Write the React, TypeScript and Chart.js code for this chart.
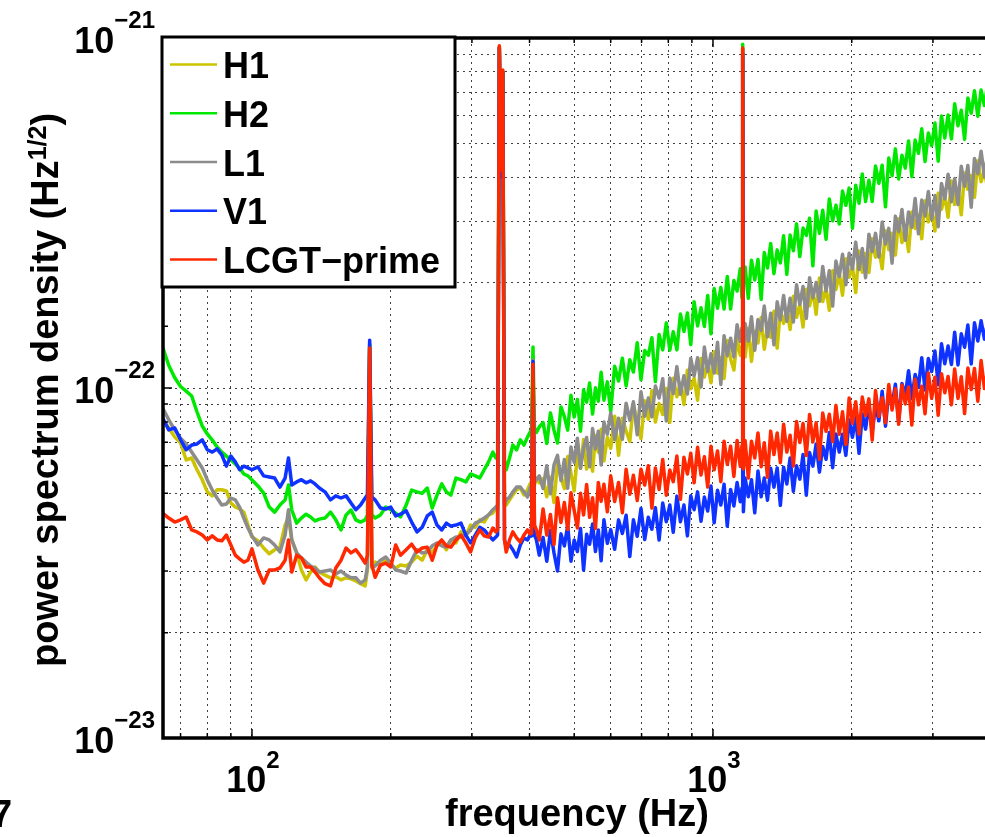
import React, { useEffect, useRef } from "react";
import { Chart, registerables } from "chart.js";

Chart.register(...registerables);

// Frequency bins (Hz)
const freqHz = [
  64, 66, 68, 70, 72, 74, 76, 78, 80, 82, 84, 86, 88, 90, 92, 94, 96, 98,
  100, 103, 106, 109, 112, 115, 118,
  120, 122, 125, 128, 131, 134, 137, 140,
  144, 148, 152, 156, 160, 164, 168, 172, 176,
  178, 180, 182, 185, 190, 195, 200, 205, 210,
  216, 222, 228, 234, 240, 246, 252, 258,
  264, 270,
  277, 284, 291, 298, 305, 312, 319, 326, 333,
  338, 341, 344, 347, 350, 353, 356,
  362, 368, 375, 382, 389, 396,
  401, 404, 407, 410, 414, 420,
  428, 436, 444, 452, 460, 468, 476, 484, 492, 500, 508, 516, 524, 532, 540, 548, 556, 564, 572, 580,
  590, 600,
  612, 624, 636, 648, 660, 672,
  685, 698, 711, 724, 737, 750,
  764, 778, 792, 806, 820,
  835, 850, 865, 880, 895,
  910, 926, 942, 958, 974, 990,
  1006, 1023, 1040, 1057, 1074, 1092, 1110, 1128, 1146,
  1156, 1160, 1164, 1174,
  1193, 1212, 1232, 1252, 1272, 1292, 1313, 1334, 1356, 1378,
  1400, 1423, 1446, 1470, 1494, 1518, 1543, 1568, 1594, 1620,
  1647, 1674, 1702, 1730, 1759, 1788, 1818, 1848, 1879, 1910,
  1942, 1974, 2007, 2040, 2074, 2108, 2143, 2179, 2215, 2252,
  2290, 2328, 2367, 2406, 2446, 2487, 2528, 2570, 2613, 2656,
  2700, 2745, 2791, 2837, 2884, 2932, 2981, 3030, 3080, 3131,
  3183, 3236, 3290, 3344, 3400, 3456, 3514, 3572, 3632, 3692,
  3754, 3816, 3880, 3944,
];

// Amplitude spectral density, in units of 1e-23 (Hz^-1/2)
const h1 = [
  8.11, 7.69, 7.24, 6.97, 6.23, 6.31, 5.84, 5.47, 5.05, 4.92, 5.12, 5.12, 5.08, 4.69, 4.57, 4.51, 4.42, 4.06,
  3.75, 3.66, 3.49, 3.36, 3.45, 3.51, 4.06,
  4.25, 3.68, 3.38, 3.02, 2.83, 2.98, 3.08, 2.98,
  2.92, 2.87, 2.89, 2.83, 2.87, 2.85, 2.81, 2.76, 2.72,
  3.02, 13.2, 3.06, 3.18, 3.12, 3.22, 3.12, 3.06, 3.12,
  3.10, 3.18, 3.31, 3.22, 3.45, 3.40, 3.54, 3.61,
  3.45, 3.68,
  3.61, 3.88, 3.78, 4.06, 4.00, 4.20, 4.14, 4.34, 4.39,
  4.54, 4.49, 94, 40, 80, 4.72, 4.63,
  4.79, 4.95, 5.12, 5.18, 4.95, 5.12,
  5.32, 5.18, 11.8, 5.28, 5.53, 5.36,
  5.51, 4.89, 5.56, 4.71, 6.13, 5.55, 5.16, 6.37, 5.72, 5.08, 6.45, 5.90, 7.12, 5.87, 6.51, 5.78, 7.31, 6.55, 7.62, 6.19,
  7.23, 6.73,
  8.31, 6.42, 8.19, 7.53, 7.04, 8.96,
  8.04, 7.17, 9.20, 8.14, 9.83, 7.99,
  9.03, 8.40, 9.97, 7.98, 10.66,
  9.44, 10.33, 8.97, 11.24, 9.95,
  10.66, 9.23, 12.14, 10.75, 11.75, 10.35,
  12.70, 11.02, 12.20, 10.65, 13.67, 12.10, 11.26, 13.80, 12.41,
  13.20, 93, 13.99, 12.26,
  14.82, 11.91, 14.52, 13.44, 15.91, 12.91, 14.79, 13.98, 16.57, 13.00,
  16.73, 15.29, 16.70, 14.69, 18.30, 15.92, 17.32, 14.94, 19.14, 17.17,
  19.05, 16.24, 20.63, 17.66, 19.24, 16.68, 21.63, 19.12, 21.25, 18.42,
  23.40, 20.73, 22.22, 18.74, 24.64, 21.42, 24.23, 21.38, 26.69, 23.65,
  24.98, 21.91, 28.12, 24.85, 27.66, 23.98, 30.47, 26.03, 28.81, 24.54,
  31.84, 28.57, 31.22, 26.70, 34.28, 29.83, 32.02, 28.09, 36.04, 32.38,
  35.44, 30.73, 39.05, 33.45, 37.08, 31.26, 41.11, 36.95, 40.44, 35.06,
  44.56, 38.83, 41.67, 37.00,
];

const h2 = [
  13.1, 11.6, 10.7, 10.1, 9.8, 9.49, 8.54, 7.79, 7.39, 7.10, 6.78, 6.56, 6.39, 6.23, 6.07, 5.91, 5.68, 5.61,
  5.46, 5.25, 5.01, 4.57, 4.42, 4.63, 4.79,
  5.28, 4.48, 4.11, 4.25, 4.36, 4.28, 4.17, 4.22,
  4.25, 4.42, 4.20, 3.93, 4.34, 4.48, 4.20, 4.14, 4.20,
  4.34, 13.3, 4.34, 4.25, 4.34, 4.57, 4.49, 4.39, 4.28,
  4.63, 5.11, 5.05, 5.00, 5.18, 4.54, 4.94, 5.32,
  5.05, 4.94,
  5.53, 5.47, 5.39, 5.68, 5.61, 5.53, 5.84, 6.15, 6.56,
  6.31, 6.43, 94, 40, 80, 6.23, 5.84,
  6.31, 6.87, 6.66, 7.11, 6.87, 7.24,
  7.47, 7.60, 13.1, 7.69, 7.47, 7.74,
  7.96, 6.94, 8.49, 7.58, 6.96, 8.83, 8.28, 7.58, 9.54, 8.27, 9.27, 7.53, 9.88, 9.11, 10.33, 8.43, 10.01, 9.17, 11.09, 9.23,
  10.41, 8.55,
  11.54, 10.47, 12.17, 10.14, 12.05, 11.11,
  13.46, 10.56, 12.80, 12.40, 13.91, 10.43,
  14.22, 12.85, 15.35, 12.83, 14.47,
  12.85, 16.26, 14.51, 16.37, 13.31,
  17.65, 15.05, 16.95, 14.99, 18.38, 14.29,
  19.25, 16.90, 19.36, 16.82, 20.83, 16.81, 20.27, 18.93, 21.92,
  18.09, 96, 19.94, 22.16,
  18.05, 23.19, 20.36, 23.29, 17.92, 24.38, 22.03, 25.87, 21.22, 24.81,
  22.77, 27.23, 21.13, 27.36, 24.68, 29.44, 23.75, 28.63, 27.30, 30.56,
  22.34, 32.02, 27.68, 32.20, 26.61, 34.68, 30.04, 33.26, 29.41, 36.54,
  33.26, 37.25, 28.62, 37.96, 33.73, 40.88, 34.10, 39.23, 34.09, 43.09,
  38.44, 43.32, 32.94, 45.40, 40.41, 48.22, 39.57, 46.26, 42.49, 50.81,
  40.15, 51.08, 46.84, 55.01, 44.39, 53.54, 49.25, 57.18, 44.46, 59.90,
  51.76, 60.22, 51.50, 64.85, 56.17, 62.20, 51.33, 67.40, 60.96, 70.63,
  59.74, 71.02, 64.11, 74.42,
];

const l1 = [
  8.77, 8.11, 7.59, 7.19, 6.92, 6.56, 6.23, 5.91, 5.46, 5.11, 4.85, 4.63, 4.66, 4.85, 4.79, 4.57, 4.25, 3.98,
  3.78, 3.56, 3.73, 3.68, 3.56, 3.40, 3.80,
  4.49, 3.68, 3.38, 3.27, 3.18, 3.10, 3.06, 2.98,
  3.00, 3.02, 2.94, 3.00, 2.92, 2.87, 2.87, 2.77, 2.83,
  3.08, 13.4, 3.08, 3.10, 3.22, 3.29, 3.16, 3.02, 3.00,
  2.96, 3.22, 3.45, 3.38, 3.40, 3.54, 3.61, 3.54,
  3.51, 3.68,
  3.75, 3.75, 3.80, 3.93, 4.11, 4.17, 4.25, 4.34, 4.49,
  4.57, 4.63, 94, 40, 80, 4.63, 4.79,
  4.88, 5.05, 5.21, 5.21, 5.05, 4.88,
  5.18, 5.28, 12.0, 5.39, 5.47, 5.61,
  5.16, 6.00, 4.99, 6.03, 6.42, 5.44, 6.25, 5.17, 6.78, 6.13, 7.19, 5.90, 6.75, 7.22, 5.96, 7.66, 6.71, 7.52, 6.03, 8.00,
  7.38, 8.49,
  7.11, 8.20, 7.14, 9.05, 8.09, 9.13,
  7.35, 9.75, 8.31, 9.36, 8.27, 10.13,
  9.36, 10.63, 8.05, 10.68, 9.64,
  11.51, 9.60, 10.84, 9.61, 12.16,
  10.83, 12.20, 10.06, 13.10, 11.15, 12.53,
  11.04, 13.51, 10.24, 14.11, 12.37, 13.88, 12.27, 15.16, 13.58,
  14.86, 93, 12.38, 15.29,
  13.60, 15.97, 12.82, 15.68, 14.62, 17.14, 14.01, 16.35, 13.29, 17.63,
  15.66, 18.38, 15.51, 18.04, 15.43, 19.72, 17.32, 19.50, 15.81, 20.64,
  18.10, 20.01, 17.69, 22.24, 18.93, 21.62, 17.14, 23.05, 20.82, 24.12,
  19.73, 24.25, 21.88, 26.11, 21.79, 25.05, 20.66, 27.51, 24.53, 27.66,
  23.66, 29.79, 25.81, 28.58, 22.74, 30.98, 28.00, 32.35, 26.42, 31.82,
  28.76, 34.81, 27.58, 34.42, 31.02, 36.45, 30.33, 35.46, 28.90, 38.40,
  34.72, 40.79, 34.03, 39.69, 33.43, 42.98, 37.73, 43.21, 32.85, 45.29,
  40.95, 47.45, 40.13, 46.81,
];

const v1 = [
  8.21, 7.59, 7.69, 7.11, 6.66, 6.87, 6.92, 7.11, 6.66, 6.56, 6.70, 6.44, 5.98, 6.39, 6.15, 5.84, 5.98, 5.91,
  5.84, 5.95, 5.61, 5.57, 5.53, 5.21, 5.53,
  6.31, 5.28, 5.39, 5.47, 5.36, 5.43, 5.32, 5.18,
  5.05, 4.79, 4.92, 4.85, 4.92, 4.69, 4.49, 4.63, 4.85,
  4.95, 13.7, 4.88, 4.79, 4.54, 4.51, 4.57, 4.31, 4.36,
  4.46, 4.14, 3.88, 4.00, 4.31, 4.42, 4.06, 3.93,
  4.11, 4.03,
  4.06, 4.11, 3.80, 3.61, 3.80, 4.00, 3.93, 3.80, 3.68,
  3.75, 3.80, 94, 40, 80, 3.68, 3.51,
  3.56, 3.45, 3.29, 3.56, 3.73, 3.68,
  3.80, 3.78, 11.9, 3.80, 3.68, 3.33,
  3.74, 3.20, 3.92, 3.38, 3.00, 3.83, 3.54, 4.03, 3.20, 3.68, 3.41, 3.97, 3.02, 3.82, 3.58, 4.09, 3.41, 3.93, 3.21, 4.20,
  3.60, 3.94,
  3.46, 4.20, 3.84, 4.33, 3.30, 4.20,
  3.77, 4.53, 3.69, 4.27, 3.95, 4.55,
  3.68, 4.69, 4.15, 4.63, 3.87,
  4.91, 4.15, 4.63, 3.78, 4.92,
  4.49, 5.05, 4.16, 4.88, 4.45, 5.25,
  4.12, 5.10, 4.63, 5.31, 4.03, 5.13, 4.60, 5.37, 4.73,
  5.18, 90, 4.43, 5.53,
  4.89, 5.47, 4.40, 5.79, 4.89, 5.53, 4.78, 5.90, 5.21, 5.91,
  4.62, 5.94, 5.32, 6.31, 5.07, 6.00, 5.49, 6.46, 4.94, 6.54,
  5.98, 6.92, 5.75, 6.81, 6.26, 7.46, 5.92, 7.39, 6.56, 7.38,
  6.42, 8.11, 7.23, 8.27, 6.51, 8.44, 7.63, 8.99, 7.49, 8.89,
  8.06, 9.79, 7.78, 9.75, 8.96, 10.25, 7.99, 10.30, 9.49, 11.20,
  9.33, 10.93, 10.05, 12.21, 9.87, 12.14, 11.15, 12.75, 10.22, 13.37,
  11.73, 13.18, 11.67, 14.44, 11.64, 14.28, 13.08, 15.13, 11.72, 15.35,
  13.63, 15.57, 13.79, 15.47,
];

const lcgtPrime = [
  4.39, 4.25, 4.14, 4.20, 4.28, 3.93, 3.88, 3.80, 3.68, 3.78, 3.68, 3.66, 3.80, 3.56, 3.33, 3.25, 3.18, 3.22,
  3.47, 3.02, 2.77, 3.02, 3.02, 3.06, 3.22,
  3.68, 2.98, 3.33, 3.27, 3.08, 3.08, 2.98, 2.87,
  2.76, 2.72, 3.06, 3.22, 3.49, 3.38, 3.45, 3.31, 3.16,
  3.33, 13.0, 3.12, 2.88, 3.12, 3.16, 3.08, 3.56, 3.33,
  3.45, 3.58, 3.40, 3.49, 3.51, 3.22, 3.56, 3.68,
  3.54, 3.51,
  3.68, 3.80, 3.61, 3.40, 3.73, 3.93, 3.78, 3.75, 3.98,
  3.88, 3.93, 95, 42, 81, 3.68, 3.40,
  3.68, 3.88, 3.73, 3.63, 3.80, 3.93,
  3.83, 3.85, 11.7, 4.06, 3.93, 3.68,
  4.51, 3.80, 4.35, 3.57, 4.86, 4.13, 4.71, 3.94, 5.02, 4.47, 3.98, 5.00, 4.34, 5.30, 4.27, 4.86, 3.97, 5.37, 4.75, 5.31,
  4.43, 5.61,
  4.74, 5.37, 4.40, 5.86, 4.97, 5.63,
  4.77, 5.86, 5.28, 6.00, 4.54, 5.91,
  5.13, 6.25, 4.94, 5.83, 5.40,
  6.39, 4.81, 6.34, 5.68, 6.51,
  5.36, 6.77, 5.64, 6.36, 5.21, 6.82,
  5.84, 6.61, 5.40, 7.05, 6.05, 6.82, 5.59, 7.08, 5.97,
  6.85, 93.6, 5.87, 7.08,
  5.53, 7.05, 6.31, 7.44, 5.96, 6.98, 5.56, 7.53, 6.46, 7.44,
  6.12, 7.88, 6.56, 7.33, 5.99, 8.02, 6.99, 7.92, 6.41, 8.40,
  7.01, 7.95, 6.26, 8.48, 7.52, 8.41, 7.03, 8.92, 7.38, 8.55,
  6.90, 9.36, 7.93, 9.14, 7.39, 9.42, 8.34, 9.31, 7.10, 9.83,
  8.30, 9.38, 7.96, 10.23, 8.65, 9.95, 7.88, 10.20, 9.00, 10.05,
  7.84, 10.60, 8.95, 10.12, 8.44, 11.04, 9.35, 10.74, 8.36, 10.99,
  9.69, 10.79, 8.96, 11.34, 9.34, 10.77, 8.45, 11.40, 9.90, 11.37,
  9.17, 11.98, 9.97, 11.26,
];

const seriesLabels = ["H1", "H2", "L1", "V1", "LCGT\u2212prime"];
const seriesColors = [
  "rgb(204,196,0)",
  "rgb(0,232,0)",
  "rgb(140,140,140)",
  "rgb(14,50,255)",
  "rgb(255,40,0)",
];
const seriesDrawOrder = [4, 3, 2, 1, 0]; // lower = drawn on top
const xTickExponents = [2, 3];
const yTickExponents = [-23, -22, -21];
const yUnitExponent = -23;
const xRange = [64.12, 3891];
const yRange = [1, 100];
const xTitle = "frequency (Hz)";
const yTitleMain = "power spectrum density (Hz";
const yTitleSup = "1/2";
const yTitleEnd = ")";

const FONT = '"Liberation Sans", Arial, Helvetica, sans-serif';

const isPow10 = (v: number) => Math.abs(Math.log10(v) - Math.round(Math.log10(v))) < 1e-6;
const isNice = (v: number) => {
  const m = v / Math.pow(10, Math.floor(Math.log10(v) + 1e-9));
  return Math.abs(m - Math.round(m)) < 1e-6;
};

const decorPlugin = {
  id: "matlabDecor",
  afterDatasetsDraw(chart: any) {
    const { ctx, chartArea: a } = chart;
    const xs = chart.scales.x;
    const ys = chart.scales.y;
    ctx.save();

    // inward tick marks
    ctx.strokeStyle = "#000";
    ctx.lineWidth = 1.5;
    ctx.beginPath();
    for (const t of xs.ticks) {
      if (!isNice(t.value) || t.value <= xs.min || t.value >= xs.max) continue;
      const px = xs.getPixelForValue(t.value);
      const len = isPow10(t.value) ? 9 : 5;
      ctx.moveTo(px, a.bottom);
      ctx.lineTo(px, a.bottom - len);
      ctx.moveTo(px, a.top);
      ctx.lineTo(px, a.top + len);
    }
    for (const t of ys.ticks) {
      if (t.value <= ys.min || t.value >= ys.max) continue;
      const py = ys.getPixelForValue(t.value);
      const len = isPow10(t.value) ? 9 : 5;
      ctx.moveTo(a.left, py);
      ctx.lineTo(a.left + len, py);
    }
    ctx.stroke();

    // axes box (right side lies outside the picture)
    ctx.lineWidth = 3.5;
    ctx.lineJoin = "miter";
    ctx.beginPath();
    ctx.moveTo(a.right + 10, a.top);
    ctx.lineTo(a.left, a.top);
    ctx.lineTo(a.left, a.bottom);
    ctx.lineTo(a.right + 10, a.bottom);
    ctx.stroke();

    // legend
    const lx = a.left - 1, ly = a.top - 1, lw = 293, lh = 250;
    ctx.fillStyle = "#fff";
    ctx.fillRect(lx, ly, lw, lh);
    ctx.strokeStyle = "#000";
    ctx.lineWidth = 3;
    ctx.strokeRect(lx, ly, lw, lh);
    ctx.font = `bold 36px ${FONT}`;
    ctx.textAlign = "left";
    ctx.textBaseline = "alphabetic";
    seriesLabels.forEach((lab, i) => {
      const cy = ly + 27.5 + i * 48.75;
      ctx.strokeStyle = seriesColors[i];
      ctx.lineWidth = 2.5;
      ctx.beginPath();
      ctx.moveTo(lx + 8, cy);
      ctx.lineTo(lx + 55, cy);
      ctx.stroke();
      ctx.fillStyle = "#000";
      ctx.fillText(lab, lx + 61, cy + 13.5);
    });

    // tick labels
    const big = `bold 36px ${FONT}`;
    const sup = `bold 24px ${FONT}`;
    ctx.fillStyle = "#000";
    ctx.textAlign = "left";
    for (const e of yTickExponents) {
      const py = ys.getPixelForValue(Math.pow(10, e - yUnitExponent));
      const es = e < 0 ? "\u2212" + Math.abs(e) : String(e);
      ctx.font = sup;
      const we = ctx.measureText(es).width;
      ctx.font = big;
      const wb = ctx.measureText("10").width;
      const right = a.left - 8;
      ctx.fillText("10", right - we - wb, py + 15);
      ctx.font = sup;
      ctx.fillText(es, right - we, py - 10);
    }
    for (const e of xTickExponents) {
      const px = xs.getPixelForValue(Math.pow(10, e));
      const es = String(e);
      ctx.font = sup;
      const we = ctx.measureText(es).width;
      ctx.font = big;
      const wb = ctx.measureText("10").width;
      const left = px + 1 - (wb + we) / 2;
      ctx.fillText("10", left, a.bottom + 54);
      ctx.font = sup;
      ctx.fillText(es, left + wb, a.bottom + 30);
    }

    // axis titles
    ctx.font = `bold 38px ${FONT}`;
    ctx.textAlign = "center";
    ctx.fillText(xTitle, 577, 826);

    ctx.save();
    ctx.translate(58, 390);
    ctx.rotate(-Math.PI / 2);
    ctx.textAlign = "left";
    const mainF = `bold 38px ${FONT}`;
    const supF = `bold 25px ${FONT}`;
    ctx.font = mainF;
    const w1 = ctx.measureText(yTitleMain).width;
    const w3 = ctx.measureText(yTitleEnd).width;
    ctx.font = supF;
    const w2 = ctx.measureText(yTitleSup).width;
    const x0 = -(w1 + w2 + w3) / 2;
    ctx.font = mainF;
    ctx.fillText(yTitleMain, x0, 0);
    ctx.font = supF;
    ctx.fillText(yTitleSup, x0 + w1, -12);
    ctx.font = mainF;
    ctx.fillText(yTitleEnd, x0 + w1 + w2, 0);
    ctx.restore();

    // cropped glyph at the lower-left edge of the figure
    ctx.font = `bold 38px ${FONT}`;
    ctx.textAlign = "left";
    ctx.fillText("7", -9, 827);

    ctx.restore();
  },
};

export default function App() {
  const ref = useRef<HTMLCanvasElement>(null);

  useEffect(() => {
    const canvas = ref.current;
    if (!canvas) return;
    const seriesValues = [h1, h2, l1, v1, lcgtPrime];
    const datasets = seriesLabels.map((label, i) => ({
      label,
      data: freqHz.map((f, j) => ({ x: f, y: seriesValues[i][j] })),
      borderColor: seriesColors[i],
      backgroundColor: seriesColors[i],
      borderWidth: 3.5,
      pointRadius: 0,
      tension: 0,
      fill: false,
      borderJoinStyle: "round",
      borderCapStyle: "round",
      order: seriesDrawOrder[i],
    }));

    const gridColor = (c: any) =>
      c.tick && isNice(c.tick.value) ? "rgba(0,0,0,0.75)" : "rgba(0,0,0,0)";

    const chart = new Chart(canvas, {
      type: "line",
      data: { datasets } as any,
      options: {
        animation: false,
        responsive: false,
        devicePixelRatio: 1,
        events: [],
        layout: { padding: { left: 163, top: 38, right: 0, bottom: 99 } },
        plugins: { legend: { display: false }, tooltip: { enabled: false } },
        scales: {
          x: {
            type: "logarithmic",
            min: xRange[0],
            max: xRange[1],
            ticks: { display: false },
            grid: { color: gridColor, lineWidth: 1, drawTicks: false },
            border: { display: false, dash: [2, 4] },
            afterFit: (s: any) => {
              s.height = 0;
            },
          },
          y: {
            type: "logarithmic",
            min: yRange[0],
            max: yRange[1],
            ticks: { display: false },
            grid: { color: gridColor, lineWidth: 1, drawTicks: false },
            border: { display: false, dash: [2, 4] },
            afterFit: (s: any) => {
              s.width = 0;
            },
          },
        },
      } as any,
      plugins: [decorPlugin],
    });
    return () => chart.destroy();
  }, []);

  return (
    <div
      style={{
        position: "absolute",
        left: 0,
        top: 0,
        width: 985,
        height: 837,
        overflow: "hidden",
        background: "#fff",
      }}
    >
      <canvas ref={ref} width={985} height={837} style={{ display: "block" }} />
    </div>
  );
}
